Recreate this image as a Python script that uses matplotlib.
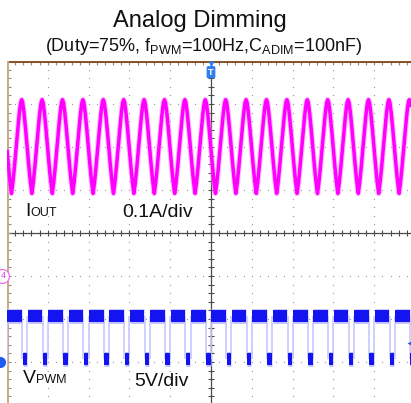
import numpy as np
import matplotlib
matplotlib.use("Agg")
import matplotlib.pyplot as plt

plt.rcParams["font.family"] = ["Liberation Sans", "DejaVu Sans"]
plt.rcParams["mathtext.fontset"] = "custom"
plt.rcParams["mathtext.rm"] = "Liberation Sans"

# ---- scope settings ----
time_per_div_ms = 20.0
iout_amp_per_div = 0.1
vpwm_volt_per_div = 5.0
iout_ref_div = -1.0        # channel 4 ground level (divisions)
vpwm_ref_div = -3.0        # channel 1 ground level (divisions)

# ---- PWM input ----
pwm_period_ms = 10.0
pwm_duty = 0.75
pwm_rise_ms = 0.0          # trigger on rising edge
pwm_high_v = 5.3
pwm_low_v = 0.3

# ---- output current, one ripple cycle sampled every 0.5 ms from a peak ----
iout_cycle_t_ms = [0.0, 0.5, 1.0, 1.5, 2.0, 2.5, 3.0, 3.5, 4.0, 4.5,
                   5.0, 5.5, 6.0, 6.5, 7.0, 7.5, 8.0, 8.5, 9.0, 9.5]
iout_cycle_a = [0.410, 0.403, 0.386, 0.363, 0.337, 0.310, 0.283, 0.256, 0.231, 0.209,
                0.192, 0.209, 0.231, 0.256, 0.283, 0.310, 0.337, 0.363, 0.386, 0.403]
iout_peak_ms = -2.8

# ---- figure / screen geometry ----
W, H = 411, 403
fig = plt.figure(figsize=(W / 100, H / 100), dpi=100)
scr_left, scr_top = 7, 61
div_w, div_h = 40.8, 43.0
ax = fig.add_axes([scr_left / W, 0, (W - scr_left) / W, (H - scr_top) / H])
t_min = -5 * time_per_div_ms
t_max = t_min + (W - scr_left) / div_w * time_per_div_ms
y_top = 4.0
y_bot = y_top - (H - scr_top) / div_h
ax.set_xlim(t_min, t_max)
ax.set_ylim(y_bot, y_top)
ax.set_axis_off()

# ---- graticule ----
dot_c = "#9a9a9a"
minor_t = np.arange(t_min, t_max + 0.01, time_per_div_ms / 5)
minor_y = np.arange(-4.0, 4.01, 0.2)
for k in range(-4, 5):
    if k == 0:
        continue
    tx = k * time_per_div_ms
    ax.plot(np.full_like(minor_y, tx), minor_y, ls="none", marker="s",
            ms=0.8, mec="none", mfc=dot_c, zorder=1)
for k in (-3, -2, -1, 1, 2, 3):
    ax.plot(minor_t, np.full_like(minor_t, k), ls="none", marker="s",
            ms=0.8, mec="none", mfc=dot_c, zorder=1)

# centre cross with tick marks
cross_c = "#4a4a4a"
ax.axvline(0, color=cross_c, lw=0.9, zorder=2)
ax.axhline(0, color=cross_c, lw=0.9, zorder=2)
ax.plot(np.zeros_like(minor_y), minor_y, ls="none", marker="_", ms=4.5,
        mew=0.8, color=cross_c, zorder=2)
ax.plot(minor_t, np.zeros_like(minor_t), ls="none", marker="|", ms=4.5,
        mew=0.8, color=cross_c, zorder=2)

# screen borders (top and left) with inward ticks
ax.axhline(y_top, color="#8a5328", lw=2.2, zorder=3)
ax.plot(minor_t, np.full_like(minor_t, y_top), ls="none", marker="|", ms=6,
        mew=0.8, color="#8c8c8c", zorder=2)
ax.axvline(t_min, color="#c9ac8c", lw=2.2, zorder=3)
ax.plot(np.full_like(minor_y, t_min), minor_y, ls="none", marker="_", ms=6,
        mew=0.8, color="#8c8c8c", zorder=2)

# ---- output current trace ----
t = np.arange(t_min, t_max, 0.05)
phase = np.mod(t - iout_peak_ms, pwm_period_ms)
iout = np.interp(phase, iout_cycle_t_ms, iout_cycle_a, period=pwm_period_ms)
iout_div = iout_ref_div + iout / iout_amp_per_div
ax.plot(t, iout_div, color="#ff8cff", lw=4.0, alpha=0.55,
        solid_capstyle="butt", zorder=4)
ax.plot(t, iout_div, color="#ff00ff", lw=2.5, solid_capstyle="butt", zorder=5)

# ---- PWM trace ----
k0 = int(np.floor((t_min - pwm_rise_ms) / pwm_period_ms)) - 1
k1 = int(np.ceil((t_max - pwm_rise_ms) / pwm_period_ms)) + 1
rises = pwm_rise_ms + pwm_period_ms * np.arange(k0, k1 + 1)
falls = rises + pwm_duty * pwm_period_ms
hi_div = vpwm_ref_div + pwm_high_v / vpwm_volt_per_div
lo_div = vpwm_ref_div + pwm_low_v / vpwm_volt_per_div
edges = np.concatenate([rises, falls])
ax.vlines(edges, lo_div, hi_div, color="#c8c8ff", lw=1.2, zorder=4)
lo_start = falls[:-1]
lo_end = rises[1:]
gap = 0.15
for lw, col, z in ((10.6, "#c0c0ff", 5), (8.6, "#1414f0", 6)):
    ax.hlines(np.full_like(rises, hi_div), rises + gap, falls - gap,
              color=col, lw=lw, capstyle="butt", zorder=z)
    ax.hlines(np.full_like(lo_start, lo_div), lo_start + gap, lo_end - gap,
              color=col, lw=lw, capstyle="butt", zorder=z)

# ---- channel / trigger markers ----
ax.plot([0], [y_top - 0.06], marker="v", ms=5, color="#2f7ff0", mec="none",
        clip_on=False, zorder=8)
ax.text(0, y_top - 0.26, "T", color="white", fontsize=6.5, fontweight="bold",
        ha="center", va="center", zorder=8,
        bbox=dict(boxstyle="round,pad=0.18", fc="#2f7ff0", ec="none"))
ax.plot([t_min - 2.6], [iout_ref_div], marker="o", ms=10, mfc="white",
        mec="#f070f0", mew=0.9, clip_on=False, zorder=8)
ax.text(t_min - 1.7, iout_ref_div, "4", color="#e040e0", fontsize=6.5,
        ha="center", va="center", zorder=9, clip_on=False)
ax.plot([t_min - 3.4], [vpwm_ref_div], marker="o", ms=8, color="#1e5cf0",
        mec="none", clip_on=False, zorder=8)
ax.plot([t_max - 0.4], [-2.55], marker="<", ms=4, color="#1e5cf0",
        mec="none", clip_on=False, zorder=8)

# ---- channel labels ----
lab_c = "#111111"
i_lab = ax.text(-91.2, 0.395, "I", fontsize=14, color=lab_c,
                ha="left", va="baseline", zorder=9)
ax.annotate("OUT", xy=(1.0, 0.395), xycoords=(i_lab, "data"), fontsize=9,
            color=lab_c, ha="left", va="baseline", zorder=9)
ax.text(-43.4, 0.372, "0.1A/div", fontsize=14, color=lab_c,
        ha="left", va="baseline", zorder=9)
v_lab = ax.text(-92.2, -3.49, "V", fontsize=14, color=lab_c,
                ha="left", va="baseline", zorder=9)
ax.annotate("PWM", xy=(1.0, -3.49), xycoords=(v_lab, "data"), fontsize=9,
            color=lab_c, ha="left", va="baseline", zorder=9)
ax.text(-37.5, -3.55, "5V/div", fontsize=14, color=lab_c,
        ha="left", va="baseline", zorder=9)

# ---- titles ----
fig.text(200 / W, 1 - 27 / H, "Analog Dimming", fontsize=17, color=lab_c,
         ha="center", va="baseline")
fig.text(204 / W, 1 - 51 / H,
         r"(Duty=75%, f$_\mathregular{PWM}$=100Hz,C$_\mathregular{ADIM}$=100nF)",
         fontsize=13, color=lab_c, ha="center", va="baseline")

fig.savefig("out.png", dpi=100)
